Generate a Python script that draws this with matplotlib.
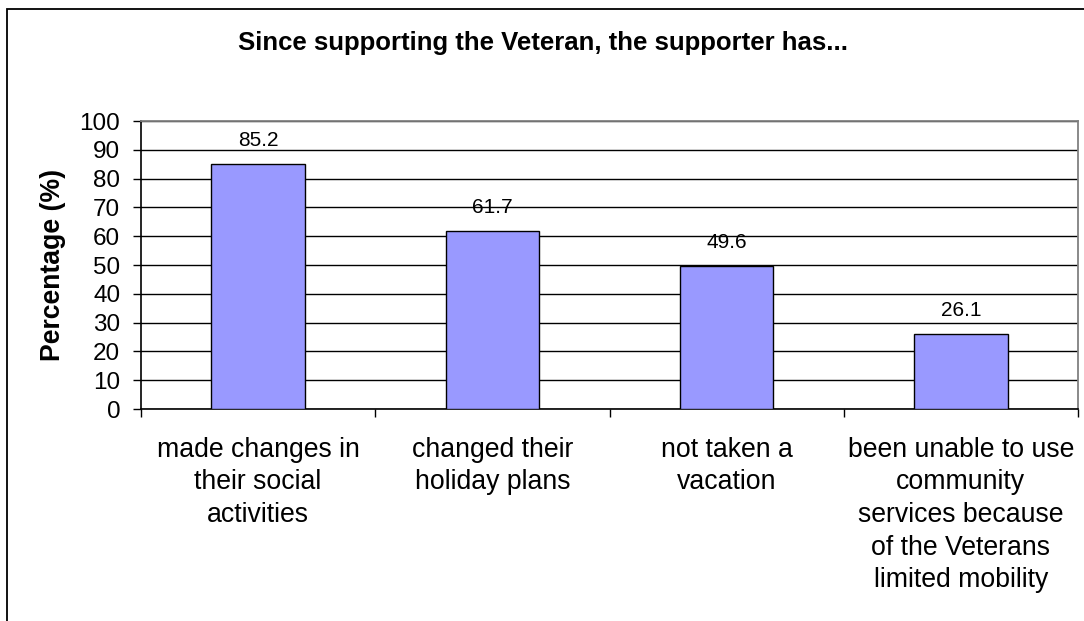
import matplotlib
matplotlib.use("Agg")
import matplotlib.pyplot as plt
from matplotlib.patches import Rectangle

categories = [
    "made changes in\ntheir social\nactivities",
    "changed their\nholiday plans",
    "not taken a\nvacation",
    "been unable to use\ncommunity\nservices because\nof the Veterans\nlimited mobility",
]
values = [85.2, 61.7, 49.6, 26.1]
y_ticks = [0, 10, 20, 30, 40, 50, 60, 70, 80, 90, 100]
title = "Since supporting the Veteran, the supporter has..."
y_label = "Percentage (%)"

plt.rcParams["font.family"] = ["Liberation Sans", "DejaVu Sans"]

W, H = 1084, 621
fig = plt.figure(figsize=(W / 100, H / 100), dpi=100)
fig.patch.set_facecolor("white")

# chart-area border (runs off the right and bottom edges)
fig.add_artist(Rectangle((7 / W, -0.1), 1.2, 1 - 9 / H + 0.1,
                         transform=fig.transFigure, fill=False,
                         edgecolor="black", linewidth=1.3))

ax = fig.add_axes([141 / W, (H - 409) / H, 937 / W, 288 / H])
x = list(range(len(categories)))
ax.bar(x, values, width=0.4, color="#9999FF", edgecolor="black",
       linewidth=1.0, zorder=3)

ax.set_xlim(-0.5, len(categories) - 0.5)
ax.set_ylim(0, 100)
ax.set_yticks(y_ticks)
ax.yaxis.grid(True, color="black", linewidth=1.0, zorder=0)
ax.set_axisbelow(True)

for xi, v in zip(x, values):
    ax.annotate(f"{v:.1f}", (xi, v), xytext=(0, 14), textcoords="offset pixels",
                ha="center", va="bottom", fontsize=15, zorder=4)

# category labels between boundary ticks
ax.set_xticks([i - 0.5 for i in range(len(categories) + 1)])
ax.set_xticklabels([])
ax.set_xticks(x, minor=True)
ax.set_xticklabels(categories, minor=True, fontsize=19.2, linespacing=1.33)
ax.tick_params(axis="x", which="major", direction="out", length=6, width=1, color="black")
ax.tick_params(axis="x", which="minor", length=0, pad=20)
ax.tick_params(axis="y", direction="out", length=6, width=1, labelsize=17.5, pad=9)

for side in ("top", "right"):
    ax.spines[side].set_color("#808080")
    ax.spines[side].set_linewidth(1.3)
for side in ("left", "bottom"):
    ax.spines[side].set_color("black")
    ax.spines[side].set_linewidth(1.2)

ax.set_ylabel(y_label, fontsize=19.2, fontweight="bold", labelpad=10)

fig.text(543 / W, 1 - 43 / H, title, ha="center", va="center",
         fontsize=18.5, fontweight="bold")

fig.savefig("out.png", dpi=100, facecolor="white")
